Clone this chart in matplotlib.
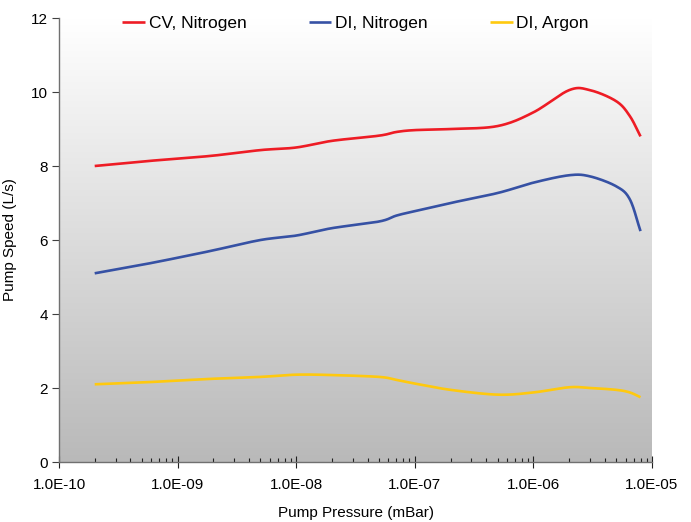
import numpy as np
import matplotlib
matplotlib.use("Agg")
import matplotlib.pyplot as plt
from matplotlib.colors import LinearSegmentedColormap

plt.rcParams['font.family'] = ['Liberation Sans', 'DejaVu Sans']

# pump pressure (mBar)
pressure = [2e-10, 5e-10, 1e-9, 2e-9, 5e-9, 1e-8, 2e-8, 5e-8, 7e-8, 1e-7,
            2e-7, 5e-7, 1e-6, 2e-6, 3e-6, 5e-6, 6.5e-6, 8e-6]

cv_nitrogen = [8.0, 8.12, 8.2, 8.28, 8.43, 8.5, 8.68, 8.82, 8.92, 8.97,
               9.0, 9.08, 9.45, 10.05, 10.05, 9.75, 9.35, 8.8]
di_nitrogen = [5.1, 5.33, 5.52, 5.72, 6.0, 6.12, 6.32, 6.5, 6.66, 6.78,
               7.0, 7.27, 7.55, 7.75, 7.72, 7.45, 7.1, 6.24]
di_argon = [2.1, 2.15, 2.2, 2.25, 2.3, 2.36, 2.35, 2.3, 2.22, 2.12,
            1.95, 1.82, 1.88, 2.02, 2.0, 1.95, 1.88, 1.75]

series_names = ["CV, Nitrogen", "DI, Nitrogen", "DI, Argon"]
series_colors = ["#ee1c25", "#3651a4", "#ffc90e"]


def smooth(xs, ys, steps=20):
    """Excel-like smoothed line: Catmull-Rom through the points in log-x space."""
    lx = np.log10(xs)
    y = np.asarray(ys, dtype=float)
    px = np.concatenate([[2 * lx[0] - lx[1]], lx, [2 * lx[-1] - lx[-2]]])
    py = np.concatenate([[2 * y[0] - y[1]], y, [2 * y[-1] - y[-2]]])
    out_x, out_y = [], []
    t = np.linspace(0, 1, steps, endpoint=False)
    for i in range(1, len(px) - 2):
        for arr, out in ((px, out_x), (py, out_y)):
            p0, p1, p2, p3 = arr[i - 1], arr[i], arr[i + 1], arr[i + 2]
            out.extend(0.5 * ((2 * p1) + (-p0 + p2) * t
                              + (2 * p0 - 5 * p1 + 4 * p2 - p3) * t ** 2
                              + (-p0 + 3 * p1 - 3 * p2 + p3) * t ** 3))
    out_x.append(lx[-1])
    out_y.append(y[-1])
    return 10 ** np.array(out_x), np.array(out_y)


fig = plt.figure(figsize=(6.91, 5.22), dpi=100)
ax = fig.add_axes([59 / 691, 60 / 522, 593 / 691, 444 / 522])

# gradient background, white at the top to grey at the bottom
cmap = LinearSegmentedColormap.from_list("bg", ["#ffffff", "#b9b9b9"])
grad = np.linspace(0, 1, 256).reshape(-1, 1)
ax.imshow(grad, cmap=cmap, aspect="auto", extent=[0, 1, 0, 1],
          transform=ax.transAxes, zorder=0)

for name, color, vals in zip(series_names, series_colors,
                             [cv_nitrogen, di_nitrogen, di_argon]):
    sx, sy = smooth(pressure, vals)
    ax.plot(sx, sy, color=color, lw=1.9, label=name, zorder=3,
            solid_capstyle="butt")

ax.set_xscale("log")
ax.set_xlim(1e-10, 1e-5)
ax.set_ylim(0, 12)
ax.set_yticks([0, 2, 4, 6, 8, 10, 12])
ax.set_xticks([1e-10, 1e-9, 1e-8, 1e-7, 1e-6, 1e-5])
ax.set_xticklabels(["1.0E-10", "1.0E-09", "1.0E-08", "1.0E-07",
                    "1.0E-06", "1.0E-05"])

for side in ["top", "right"]:
    ax.spines[side].set_visible(False)
for side in ["left", "bottom"]:
    ax.spines[side].set_color("#707070")
    ax.spines[side].set_linewidth(1.0)

ax.tick_params(axis="y", direction="out", length=5, width=0.8,
               color="#404040", labelsize=11, pad=3)
ax.tick_params(axis="x", which="major", direction="inout", length=9,
               width=0.8, color="#202020", labelsize=11, pad=7)
ax.tick_params(axis="x", which="minor", direction="in", length=3,
               width=0.8, color="#202020")

ax.set_xlabel("Pump Pressure (mBar)", fontsize=11, labelpad=10)
ax.set_ylabel("Pump Speed (L/s)", fontsize=11, labelpad=10)

ax.legend(loc="upper center", bbox_to_anchor=(0.5, 1.04), ncol=3,
          frameon=False, fontsize=12.5, handlelength=1.3, handletextpad=0.2,
          columnspacing=3.6)

fig.savefig("out.png", dpi=100)
